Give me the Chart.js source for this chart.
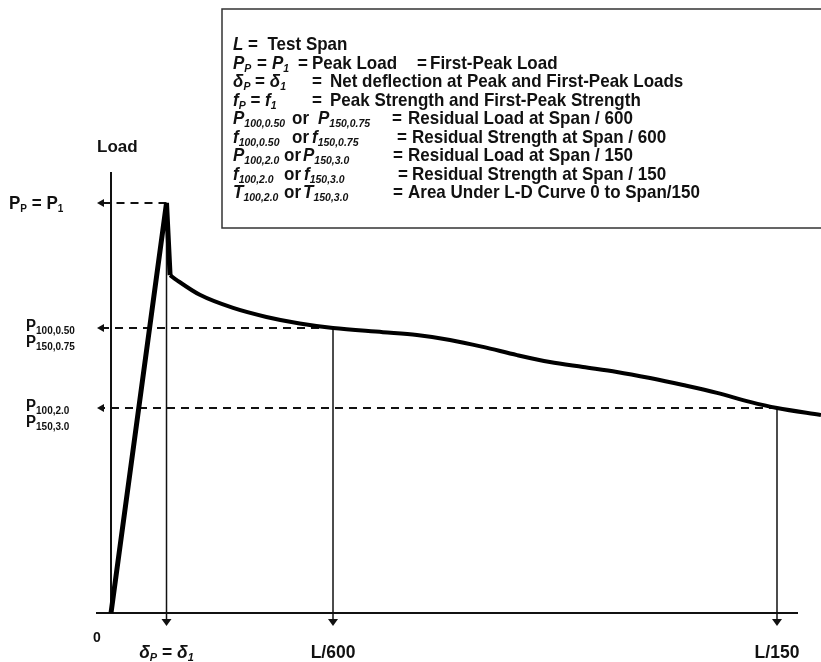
<!DOCTYPE html>
<html>
<head>
<meta charset="utf-8">
<title>Load - Deflection</title>
<script src="https://cdn.jsdelivr.net/npm/chart.js@4.4.1/dist/chart.umd.min.js"></script>
<style>
  body { margin: 0; background: #fff; }
  canvas { display: block; }
</style>
</head>
<body>
<canvas id="ldChart" width="821" height="662"></canvas>
<script>
// load - deflection curve (deflection in L/600 units, load in arbitrary units)
const deflection = [0, 0.25, 0.266, 0.296, 0.40, 0.55, 0.70, 0.85, 1.0, 1.225, 1.378, 1.527, 1.676, 1.829, 1.977, 2.126, 2.279, 2.428, 2.577, 2.73, 2.878, 3.0, 3.198];
const load       = [0, 10, 8.24, 8.12, 7.76, 7.44, 7.22, 7.06, 6.95, 6.85, 6.78, 6.66, 6.49, 6.29, 6.12, 6.0, 5.88, 5.73, 5.56, 5.37, 5.15, 5.0, 4.83];

// marked points: peak, L/600, L/150
const markDefl = [0.25, 1.0, 3.0];
const markLoad = [10, 6.95, 5.0];

// helpers for rich text pieces
const I = (t, at) => ({ t: t, it: true, at: at });
const N = (t, at) => ({ t: t, at: at });
const S = (t, at) => ({ t: t, it: true, sub: true, at: at });
const U = (t) => ({ t: t, sub: true });

// tick labels
const xTickLabels = [
    [I('δ'), S('P'), N(' = '), I('δ'), S('1')],
    [N('L/600')],
    [N('L/150')]
];
const yTickLabels = [
    [[N('P'), U('P'), N(' = '), N('P'), U('1')]],
    [[N('P'), U('100,0.50')], [N('P'), U('150,0.75')]],
    [[N('P'), U('100,2.0')], [N('P'), U('150,3.0')]]
];

// notation box
const notes = [
    [I('L', 233), N(' =  Test Span')],
    [I('P', 233), S('P'), N('=', 257), I('P', 272), S('1'), N('=', 298), N('Peak Load', 312), N('=', 417), N('First-Peak Load', 430)],
    [I('δ', 233), S('P'), N(' = '), I('δ'), S('1'), N('=', 312), N('Net deflection at Peak and First-Peak Loads', 330)],
    [I('f', 233), S('P'), N(' = '), I('f'), S('1'), N('=', 312), N('Peak Strength and First-Peak Strength', 330)],
    [I('P', 233), S('100,0.50'), N('or', 292), I('P', 318), S('150,0.75'), N('=', 392), N('Residual Load at Span / 600', 408)],
    [I('f', 233), S('100,0.50'), N('or', 292), I('f', 312), S('150,0.75'), N('=', 397), N('Residual Strength at Span / 600', 412)],
    [I('P', 233), S('100,2.0'), N('or', 284), I('P', 303), S('150,3.0'), N('=', 393), N('Residual Load at Span / 150', 408)],
    [I('f', 233), S('100,2.0'), N('or', 284), I('f', 304), S('150,3.0'), N('=', 398), N('Residual Strength at Span / 150', 412)],
    [I('T', 233), S('100,2.0'), N('or', 284), I('T', 303), S('150,3.0'), N('=', 393), N('Area Under L-D Curve 0 to Span/150', 408)]
];

const FONT = '"Liberation Sans", Arial, sans-serif';

function setFont(ctx, p, size, subSize) {
    const s = p.sub ? subSize : size;
    ctx.font = (p.it ? 'italic ' : '') + 'bold ' + s + 'px ' + FONT;
}

function richWidth(ctx, parts, size, subSize) {
    let w = 0;
    parts.forEach(p => { setFont(ctx, p, size, subSize); w += ctx.measureText(p.t).width; });
    return w;
}

// draws a run of text pieces on one baseline; stretch > 1 makes glyphs taller
function drawRich(ctx, parts, x, y, size, subSize, stretch) {
    const sy = stretch || 1;
    ctx.save();
    ctx.translate(0, y);
    ctx.scale(1, sy);
    parts.forEach(p => {
        if (p.at != null) x = p.at;
        setFont(ctx, p, size, subSize);
        ctx.fillText(p.t, x, p.sub ? 3 / sy : 0);
        x += ctx.measureText(p.t).width;
    });
    ctx.restore();
}

function arrowLeft(ctx, tipX, yy) {
    ctx.beginPath();
    ctx.moveTo(tipX, yy);
    ctx.lineTo(tipX + 7, yy - 4);
    ctx.lineTo(tipX + 7, yy + 4);
    ctx.closePath();
    ctx.fill();
}

function arrowDown(ctx, xx, tipY) {
    ctx.beginPath();
    ctx.moveTo(xx, tipY);
    ctx.lineTo(xx - 5, tipY - 7);
    ctx.lineTo(xx + 5, tipY - 7);
    ctx.closePath();
    ctx.fill();
}

const figurePlugin = {
    id: 'figure',
    beforeDatasetsDraw(chart) {
        const ctx = chart.ctx;
        const x = chart.scales.x, y = chart.scales.y;
        const x0 = x.getPixelForValue(0), y0 = y.getPixelForValue(0);
        ctx.save();
        ctx.strokeStyle = '#111';
        ctx.fillStyle = '#111';

        // axes
        ctx.lineWidth = 2;
        ctx.beginPath();
        ctx.moveTo(x.left, y0);
        ctx.lineTo(x.right, y0);
        ctx.moveTo(x0, y0);
        ctx.lineTo(x0, y.top);
        ctx.stroke();

        // dashed load lines and deflection drop lines
        markDefl.forEach((d, i) => {
            const px = x.getPixelForValue(d), py = y.getPixelForValue(markLoad[i]);
            ctx.lineWidth = 2;
            ctx.setLineDash([8, 6]);
            ctx.beginPath();
            ctx.moveTo(px, py);
            ctx.lineTo(x0 - 7, py);
            ctx.stroke();
            ctx.setLineDash([]);
            arrowLeft(ctx, x0 - 14, py);

            ctx.lineWidth = 1.5;
            ctx.beginPath();
            ctx.moveTo(px, py);
            ctx.lineTo(px, y0 + 7);
            ctx.stroke();
            arrowDown(ctx, px, y0 + 13);
        });
        ctx.restore();
    },
    afterDraw(chart) {
        const ctx = chart.ctx;
        const x = chart.scales.x, y = chart.scales.y;
        const x0 = x.getPixelForValue(0), y0 = y.getPixelForValue(0);
        ctx.save();
        ctx.fillStyle = '#111';
        ctx.textBaseline = 'alphabetic';
        ctx.textAlign = 'left';

        // notation box
        ctx.strokeStyle = '#333';
        ctx.lineWidth = 1.5;
        ctx.strokeRect(222, 9, 620, 219);
        notes.forEach((row, i) => drawRich(ctx, row, 233, 50 + i * 18.5, 17, 10.5, 1.12));

        // axis titles
        ctx.font = 'bold 17px ' + FONT;
        ctx.fillText('Load', x0 - 14, 152);
        ctx.font = 'bold 14px ' + FONT;
        ctx.fillText('0', x0 - 18, y0 + 29);

        // x tick labels
        markDefl.forEach((d, i) => {
            const parts = xTickLabels[i];
            const w = richWidth(ctx, parts, 17.5, 11);
            drawRich(ctx, parts, x.getPixelForValue(d) - w / 2, y0 + 45, 17.5, 11, 1.05);
        });

        // y tick labels
        drawRich(ctx, yTickLabels[0][0], 9, y.getPixelForValue(markLoad[0]) + 6, 17, 10, 1.05);
        for (let i = 1; i < 3; i++) {
            const py = y.getPixelForValue(markLoad[i]);
            yTickLabels[i].forEach((line, k) => drawRich(ctx, line, 26, py + 3 + k * 16, 15, 10, 1.05));
        }
        ctx.restore();
    }
};

const ctx = document.getElementById('ldChart').getContext('2d');

const ldChart = new Chart(ctx, {
    type: 'line',
    data: {
        datasets: [{
            // elastic rise to peak and sudden drop
            data: deflection.slice(0, 3).map((d, i) => ({ x: d, y: load[i] })),
            borderColor: '#000',
            borderWidth: 5,
            pointRadius: 0,
            tension: 0,
            clip: false
        }, {
            // post-peak softening branch
            data: deflection.slice(2).map((d, i) => ({ x: d, y: load[i + 2] })),
            borderColor: '#000',
            borderWidth: 4,
            pointRadius: 0,
            cubicInterpolationMode: 'monotone',
            clip: false
        }]
    },
    options: {
        responsive: false,
        animation: false,
        layout: {
            padding: { left: 96, right: 23, top: 172, bottom: 49 }
        },
        scales: {
            x: { type: 'linear', min: -0.0676, max: 3.0946, display: false },
            y: { type: 'linear', min: 0, max: 10.756, display: false }
        },
        plugins: {
            legend: { display: false },
            tooltip: { enabled: false }
        }
    },
    plugins: [figurePlugin]
});
</script>
</body>
</html>
